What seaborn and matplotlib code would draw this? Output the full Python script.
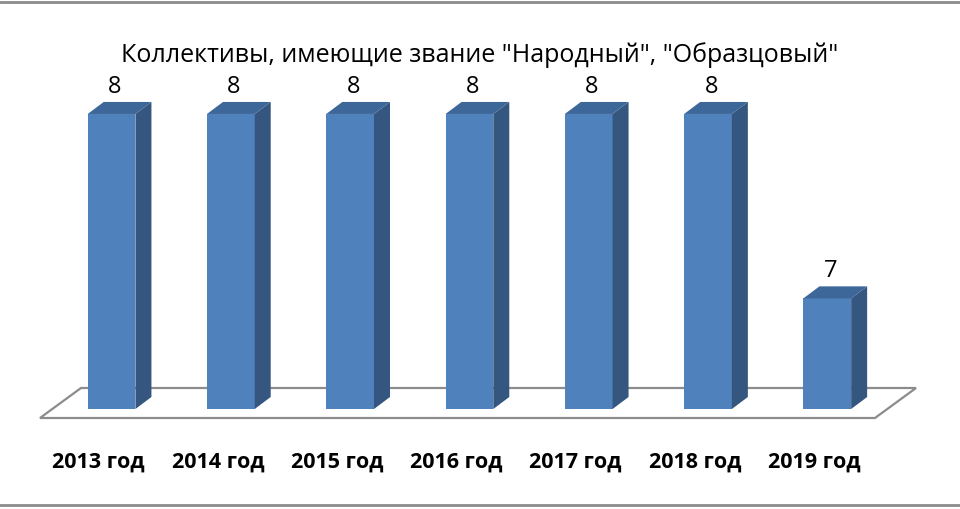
import numpy as np
import pandas as pd
import seaborn as sns
import matplotlib
matplotlib.use("Agg")
import matplotlib.pyplot as plt
from matplotlib.patches import Polygon
from matplotlib.lines import Line2D

# data
years = ["2013 год", "2014 год", "2015 год", "2016 год", "2017 год", "2018 год", "2019 год"]
counts = [8, 8, 8, 8, 8, 8, 7]
title = 'Коллективы, имеющие звание "Народный", "Образцовый"'

front_col = "#4F81BD"
side_col = "#34567F"
top_col = "#3D6699"

sns.set_theme(style="white")
plt.rcParams["font.family"] = ["Open Sans", "DejaVu Sans"]

df = pd.DataFrame({"year": years, "n": counts})

fig = plt.figure(figsize=(9.6, 5.1), dpi=100)
# axes placed in pixels: x 40..875, y 100..(100+2.1*184.4) from bottom
ax = fig.add_axes([40 / 960, 100 / 510, 835 / 960, 2.1 * 184.4 / 510])
sns.barplot(data=df, x="year", y="n", color=front_col, width=0.4, saturation=1,
            linewidth=0, edgecolor="none", ax=ax, zorder=3)
ax.set_xlim(-0.6, 6.4)
ax.set_ylim(6.4, 8.5)
ax.axis("off")

# depth offset of the fake 3d boxes, pixels -> data units
fig.canvas.draw()
x0, y0 = ax.transData.transform((0, 6.4))
x1, y1 = ax.transData.transform((1, 7.4))
px_x, px_y = x1 - x0, y1 - y0
dx, dy = 16 / px_x, 12 / px_y
base = ax.get_ylim()[0]

# floor
fdx, fdy = 41 / px_x, 30 / px_y
fb = base - 9 / px_y
lo, hi = ax.get_xlim()
floor = Polygon([(lo, fb), (hi, fb), (hi + fdx, fb + fdy), (lo + fdx, fb + fdy)],
                closed=True, facecolor="white", edgecolor="#8C8C8C", lw=1.6,
                clip_on=False, zorder=1)
ax.add_patch(floor)

for p, v in zip(ax.patches[:len(counts)], counts):
    l = p.get_x()
    r = l + p.get_width()
    t = v
    side = Polygon([(r, base), (r + dx, base + dy), (r + dx, t + dy), (r, t)],
                   closed=True, facecolor=side_col, edgecolor="none", clip_on=False, zorder=3)
    top = Polygon([(l, t), (r, t), (r + dx, t + dy), (l + dx, t + dy)],
                  closed=True, facecolor=top_col, edgecolor="none", clip_on=False, zorder=3)
    ax.add_patch(side)
    ax.add_patch(top)
    p.set_clip_on(True)
    ax.text(l + p.get_width() / 2 + dx * 0.2, t + dy + 4 / px_y, str(v),
            ha="center", va="bottom", fontsize=17, color="black", zorder=5)

for i, lab in enumerate(years):
    ax.text(i - 13 / px_x, base - 52 / px_y, lab, ha="center", va="center",
            fontsize=15.5, fontweight="bold", color="black", clip_on=False)

fig.text(0.5, 1 - 55 / 510, title, ha="center", va="center", fontsize=18, color="black")

# frame lines top and bottom
fig.add_artist(Line2D([0, 1], [1 - 2.5 / 510, 1 - 2.5 / 510], color="#8C8C8C", lw=2))
fig.add_artist(Line2D([0, 1], [1 - 506 / 510, 1 - 506 / 510], color="#8C8C8C", lw=2))

fig.savefig("out.png", dpi=100)
